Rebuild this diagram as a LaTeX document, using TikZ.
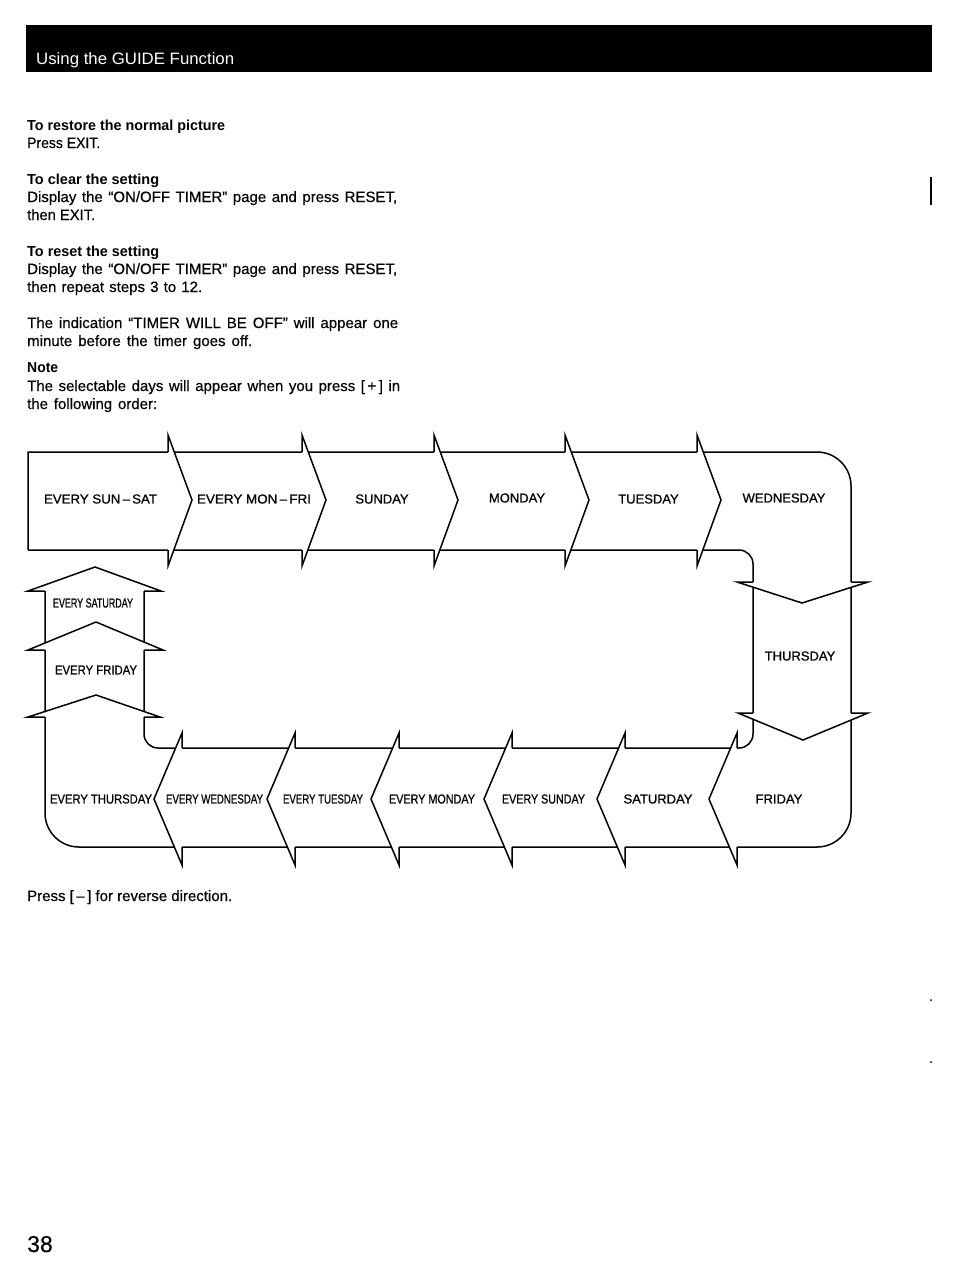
\documentclass[tikz,border=0pt]{standalone}
\usepackage{fontspec}
\setmainfont{Liberation Sans}
\newfontfamily\labfont[FakeBold=0.8]{Liberation Sans}
\newfontfamily\txtfont[FakeBold=0.4]{Liberation Sans}
\newcommand{\headright}[1]{\filldraw[band,fill=white] (#1,452) -- (#1,435) -- ({#1+24},500) -- (#1,566) -- (#1,550);}
\newcommand{\headleft}[1]{\filldraw[band,fill=white] (#1,748) -- (#1,733) -- ({#1-28},799) -- (#1,865) -- (#1,847);}
\newcommand{\fitto}[2]{\resizebox{#1pt}{\height}{#2}}
\begin{document}
\begin{tikzpicture}[x=1pt,y=-1pt,
  band/.style={line width=1.5pt,line join=miter,black},
  lab/.style={inner sep=0pt,font=\labfont\fontsize{13}{15}\selectfont},
  body/.style={inner sep=0pt,anchor=base west,font=\txtfont\fontsize{15}{18}\selectfont},
  head/.style={inner sep=0pt,anchor=base west,font=\fontsize{14.5}{17}\selectfont\bfseries}]
\useasboundingbox (0,0) rectangle (954,1278);
% header bar
\fill[black] (26,25) rectangle (932,72);
\node[inner sep=0pt,anchor=base west,text=white,font=\fontsize{16.5}{19}\selectfont] (title) at (36,64) {\fitto{198}{Using the GUIDE Function}};
% body text
\node[head] (h1) at (27,130) {\fitto{198}{To restore the normal picture}};
\node[body] (b1) at (27,148) {\fitto{73}{Press EXIT.}};
\node[head] (h2) at (27,184) {\fitto{132}{To clear the setting}};
\node[body] (b2) at (27,202) {\makebox[370pt][s]{Display the “ON/OFF TIMER” page and press RESET,}};
\node[body] (b3) at (27,220) {\fitto{68}{then EXIT.}};
\node[head] (h3) at (27,256) {\fitto{132}{To reset the setting}};
\node[body] (b4) at (27,274) {\makebox[370pt][s]{Display the “ON/OFF TIMER” page and press RESET,}};
\node[body] (b5) at (27,292) {\makebox[175pt][s]{then repeat steps 3 to 12.}};
\node[body] (b6) at (27,328) {\makebox[371pt][s]{The indication “TIMER WILL BE OFF” will appear one}};
\node[body] (b7) at (27,346) {\makebox[225pt][s]{minute before the timer goes off.}};
\node[head] (h4) at (27,372) {\fitto{31}{Note}};
\node[body] (b8) at (27,391) {\makebox[373pt][s]{The selectable days will appear when you press [\,+\,] in}};
\node[body] (b9) at (27,409) {\makebox[130pt][s]{the following order:}};
\node[body] (b10) at (27,901) {\makebox[205pt][s]{Press [\,–\,] for reverse direction.}};
\node[inner sep=0pt,anchor=base west,font=\txtfont\fontsize{23}{26}\selectfont] (page) at (27,1252) {38};
% margin marks
\draw[line width=1.2pt] (931,177) -- (931,205);
\fill (931,1000) circle (1pt);
\fill (931,1062) circle (1pt);
% band outline
\draw[band] (28,550) -- (28,452) -- (400,452) [rounded corners=34pt] -- (851,452) -- (851,847) -- (45,847) -- (45,780) [sharp corners] -- (45,591);
\draw[band] (144,591) -- (144,690) [rounded corners=14pt] -- (144,748) -- (753,748) -- (753,550) -- (600,550) [sharp corners] -- (28,550);
% top row heads
\headright{168}
\headright{302}
\headright{434}
\headright{565}
\headright{697}
% Thursday heads
\filldraw[band,fill=white] (753,582) -- (737,582) -- (802,603) -- (868,582) -- (851,582);
\filldraw[band,fill=white] (753,713) -- (738,713) -- (803,740) -- (868,713) -- (851,713);
% bottom row heads
\headleft{182}
\headleft{295}
\headleft{399}
\headleft{512}
\headleft{625}
\headleft{737}
% left column heads
\filldraw[band,fill=white] (45,717) -- (28,717) -- (96,695) -- (160,717) -- (144,717);
\filldraw[band,fill=white] (45,650) -- (28,650) -- (96,622) -- (163,650) -- (144,650);
\filldraw[band,fill=white] (45,591) -- (28,591) -- (95,567) -- (161,591) -- (144,591);
% labels
\node[lab] (sunsat) at (100.5,499) {\fitto{113}{EVERY SUN\,–\,SAT}};
\node[lab] (monfri) at (254,499) {\fitto{114}{EVERY MON\,–\,FRI}};
\node[lab] (sun) at (382,499) {SUNDAY};
\node[lab] (mon) at (517,498) {MONDAY};
\node[lab] (tue) at (648.5,499) {TUESDAY};
\node[lab] (wed) at (784,498) {WEDNESDAY};
\node[lab] (thu) at (800,656) {THURSDAY};
\node[lab] (fri) at (779,799) {FRIDAY};
\node[lab] (sat) at (658,799) {SATURDAY};
\node[lab] (esun) at (543.5,799) {\fitto{83}{EVERY SUNDAY}};
\node[lab] (emon) at (432,799) {\fitto{86}{EVERY MONDAY}};
\node[lab] (etue) at (323,799) {\fitto{80}{EVERY TUESDAY}};
\node[lab] (ewed) at (214.5,799) {\fitto{97}{EVERY WEDNESDAY}};
\node[lab] (ethu) at (101,799) {\fitto{102}{EVERY THURSDAY}};
\node[lab] (efri) at (96,670) {\fitto{82}{EVERY FRIDAY}};
\node[lab] (esat) at (93,603) {\fitto{80}{EVERY SATURDAY}};
\end{tikzpicture}
\end{document}
